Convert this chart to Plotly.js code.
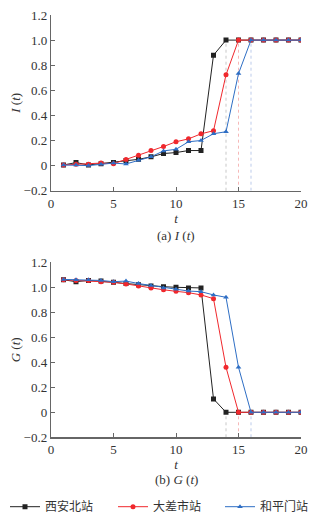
<!DOCTYPE html>
<html>
<head>
<meta charset="utf-8">
<script src="https://cdn.plot.ly/plotly-3.0.1.min.js"></script>
<style>html,body{margin:0;padding:0;background:#fff;}#chart{width:324px;height:523px;}</style>
</head>
<body>
<div id="chart"></div>
<script>
const t = [1,2,3,4,5,6,7,8,9,10,11,12,13,14,15,16,17,18,19,20];
const stations = ["西安北站", "大差市站", "和平门站"];
const I_xian = [0.005,0.024,0.005,0.015,0.025,0.04,0.05,0.07,0.096,0.104,0.12,0.12,0.88,1,1,1,1,1,1,1];
const I_dacha = [0.005,0.01,0.01,0.02,0.015,0.048,0.083,0.12,0.152,0.19,0.213,0.253,0.278,0.723,1,1,1,1,1,1];
const I_heping = [0.005,0.005,0.0,0.01,0.02,0.013,0.043,0.07,0.117,0.13,0.19,0.2,0.254,0.27,0.733,1,1,1,1,1];
const G_xian = [1.06,1.045,1.055,1.05,1.04,1.03,1.02,1.01,1.005,1.0,0.995,0.995,0.107,0,0,0,0,0,0,0];
const G_dacha = [1.06,1.055,1.055,1.045,1.04,1.027,1.01,0.995,0.98,0.968,0.957,0.939,0.909,0.36,0,0,0,0,0,0];
const G_heping = [1.063,1.06,1.06,1.055,1.045,1.05,1.03,1.015,0.995,0.985,0.97,0.965,0.939,0.92,0.36,0,0,0,0,0];
const yTickVals = [-0.2,0,0.2,0.4,0.6,0.8,1.0,1.2];
const yTickText = ["\u22120.2","0","0.2","0.4","0.6","0.8","1.0","1.2"];
const xTickVals = [0,5,10,15,20];

const colors = ["#222222", "#f0282d", "#2e6ec4"];
const dropColors = ["#c8c8c8", "#f6b8b8", "#bccbeb"];
const symbols = ["square", "circle", "triangle-up"];
const legendIds = ["legend", "legend2", "legend3"];
const Iseries = [I_xian, I_dacha, I_heping];
const Gseries = [G_xian, G_dacha, G_heping];

const traces = [];
for (let k = 0; k < 3; k++) {
  traces.push({x: t, y: Iseries[k], xaxis: 'x', yaxis: 'y', name: stations[k], mode: 'lines+markers', legend: legendIds[k],
    line: {color: colors[k], width: 1}, marker: {symbol: symbols[k], size: 5, color: colors[k]}, showlegend: true});
}
for (let k = 0; k < 3; k++) {
  traces.push({x: t, y: Gseries[k], xaxis: 'x2', yaxis: 'y2', name: stations[k], mode: 'lines+markers',
    line: {color: colors[k], width: 1}, marker: {symbol: symbols[k], size: 5, color: colors[k]}, showlegend: false});
}

const shapes = [];
for (let k = 0; k < 3; k++) {
  const iI = Iseries[k].indexOf(1);
  shapes.push({type: 'line', xref: 'x', yref: 'y', x0: t[iI], x1: t[iI], y0: -0.2, y1: Iseries[k][iI],
    line: {color: dropColors[k], width: 1, dash: 'dot'}, layer: 'below'});
  const iG = Gseries[k].indexOf(0);
  shapes.push({type: 'line', xref: 'x2', yref: 'y2', x0: t[iG], x1: t[iG], y0: -0.2, y1: Gseries[k][iG],
    line: {color: dropColors[k], width: 1, dash: 'dot'}, layer: 'below'});
}

const serif = 'Liberation Serif';
const axisCommon = {
  showgrid: false, zeroline: false, showline: true, linecolor: '#666', linewidth: 1.2,
  ticks: 'inside', ticklen: 4, tickcolor: '#666', tickfont: {family: serif, size: 13, color: '#333'}
};
const H = 523, L = 51, PW = 250;
const legendBase = {orientation: 'h', xref: 'paper', yref: 'paper', xanchor: 'left', y: 1 - 506.7 / H, yanchor: 'middle',
  font: {family: 'Noto Sans CJK SC', size: 12, color: '#333'}, itemwidth: 30, bgcolor: 'rgba(0,0,0,0)'};
const layout = {
  width: 324, height: 523,
  margin: {l: L, r: 23, t: 0, b: 0, autoexpand: false},
  paper_bgcolor: '#fff', plot_bgcolor: '#fff',
  font: {family: serif, color: '#333'},
  xaxis: Object.assign({}, axisCommon, {domain: [0, 1], range: [0, 20], tickvals: xTickVals, anchor: 'y',
    title: {text: '<i>t</i>', font: {family: serif, size: 13, color: '#333'}, standoff: 2}}),
  yaxis: Object.assign({}, axisCommon, {domain: [1 - 190.7 / H, 1 - 15 / H], range: [-0.2, 1.2], tickvals: yTickVals, ticktext: yTickText, anchor: 'x',
    title: {text: '<i>I</i> (<i>t</i>)', font: {family: serif, size: 13, color: '#333'}, standoff: 0}}),
  xaxis2: Object.assign({}, axisCommon, {domain: [0, 1], range: [0, 20], tickvals: xTickVals, anchor: 'y2',
    title: {text: '<i>t</i>', font: {family: serif, size: 13, color: '#333'}, standoff: 2}}),
  yaxis2: Object.assign({}, axisCommon, {domain: [1 - 437.3 / H, 1 - 262.3 / H], range: [-0.2, 1.2], tickvals: yTickVals, ticktext: yTickText, anchor: 'x2',
    title: {text: '<i>G</i> (<i>t</i>)', font: {family: serif, size: 13, color: '#333'}, standoff: 0}}),
  shapes: shapes,
  annotations: [
    {text: '(a) <i>I</i> (<i>t</i>)', xref: 'paper', yref: 'paper', x: 0.5, y: 1 - 235 / H, showarrow: false,
      xanchor: 'center', yanchor: 'middle', font: {family: serif, size: 13, color: '#333'}},
    {text: '(b) <i>G</i> (<i>t</i>)', xref: 'paper', yref: 'paper', x: 0.5, y: 1 - 479 / H, showarrow: false,
      xanchor: 'center', yanchor: 'middle', font: {family: serif, size: 13, color: '#333'}}
  ],
  legend: Object.assign({}, legendBase, {x: (5 - L) / PW}),
  legend2: Object.assign({}, legendBase, {x: (113 - L) / PW}),
  legend3: Object.assign({}, legendBase, {x: (220 - L) / PW}),
  showlegend: true
};
Plotly.newPlot('chart', traces, layout, {displayModeBar: false, staticPlot: true});
</script>
</body>
</html>
